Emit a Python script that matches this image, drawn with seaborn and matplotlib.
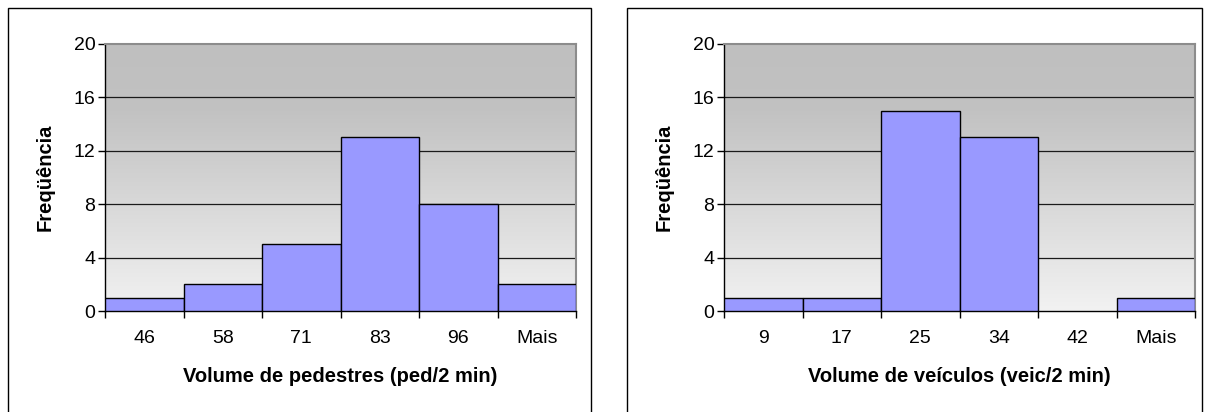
import numpy as np
import matplotlib
matplotlib.use("Agg")
import matplotlib.pyplot as plt
from matplotlib.colors import LinearSegmentedColormap
from matplotlib.patches import Rectangle
import seaborn as sns

# data
ped_bins = ["46", "58", "71", "83", "96", "Mais"]
ped_freq = [1, 2, 5, 13, 8, 2]
veic_bins = ["9", "17", "25", "34", "42", "Mais"]
veic_freq = [1, 1, 15, 13, 0, 1]
y_ticks = [0, 4, 8, 12, 16, 20]

sns.set_style("white")
plt.rcParams["font.family"] = ["Liberation Sans", "DejaVu Sans"]
plt.rcParams["text.color"] = "black"
plt.rcParams["axes.labelcolor"] = "black"
plt.rcParams["xtick.color"] = "black"
plt.rcParams["ytick.color"] = "black"

bar_color = "#9999ff"
grad = LinearSegmentedColormap.from_list(
    "excel", [(0.0, "#f2f2f2"), (0.75, "#c2c2c2"), (1.0, "#bfbfbf")])


def draw_hist(ax, bins, freq, xlabel):
    sns.barplot(x=bins, y=freq, width=1.0, color=bar_color, edgecolor="black",
                linewidth=1.0, saturation=1, order=bins, ax=ax)
    for p in ax.patches:
        p.set_zorder(3)
        if p.get_height() == 0:
            p.set_linewidth(0)
    # excel gradient background
    g = np.linspace(0, 1, 256).reshape(-1, 1)
    ax.imshow(g, extent=[-0.5, len(bins) - 0.5, 0, 20], origin="lower",
              aspect="auto", cmap=grad, zorder=0)
    for yv in y_ticks[1:-1]:
        ax.axhline(yv, color="#1a1a1a", lw=0.9, zorder=1)
    ax.set_xlim(-0.5, len(bins) - 0.5)
    ax.set_ylim(0, 20)
    ax.set_yticks(y_ticks)
    ax.tick_params(axis="y", direction="out", length=5, width=1, color="black",
                   labelsize=14, pad=2, left=True)
    ax.set_xticks(range(len(bins)))
    ax.set_xticklabels(bins)
    ax.set_xticks(np.arange(-0.5, len(bins)), minor=True)
    ax.tick_params(axis="x", which="major", length=0, labelsize=14, pad=14)
    ax.tick_params(axis="x", which="minor", direction="out", length=5,
                   width=1, color="black", bottom=True)
    for side in ["left", "bottom"]:
        ax.spines[side].set_color("black")
        ax.spines[side].set_linewidth(1)
    for side in ["top", "right"]:
        ax.spines[side].set_color("#8c8c8c")
        ax.spines[side].set_linewidth(1.5)
    ax.set_xlabel(xlabel, fontsize=14.5, fontweight="bold")
    ax.set_ylabel("Freqüência", fontsize=14.5, fontweight="bold")
    ax.xaxis.set_label_coords(0.5, -0.21)
    ax.yaxis.set_label_coords(-0.108, 0.5)


fig = plt.figure(figsize=(12.1, 4.12), dpi=100)
fig.patch.set_facecolor("white")

# outer chart frames
fig.patches.append(Rectangle((8 / 1210, -0.05), 583 / 1210, 0.05 + 1 - 8 / 412,
                             transform=fig.transFigure, fill=False,
                             edgecolor="black", lw=1))
fig.patches.append(Rectangle((627 / 1210, -0.05), 575 / 1210, 0.05 + 1 - 8 / 412,
                             transform=fig.transFigure, fill=False,
                             edgecolor="black", lw=1))

ax1 = fig.add_axes([105 / 1210, 101 / 412, 471 / 1210, 267 / 412])
ax2 = fig.add_axes([724 / 1210, 101 / 412, 471 / 1210, 267 / 412])

draw_hist(ax1, ped_bins, ped_freq, "Volume de pedestres (ped/2 min)")
draw_hist(ax2, veic_bins, veic_freq, "Volume de veículos (veic/2 min)")

fig.savefig("out.png", dpi=100)
